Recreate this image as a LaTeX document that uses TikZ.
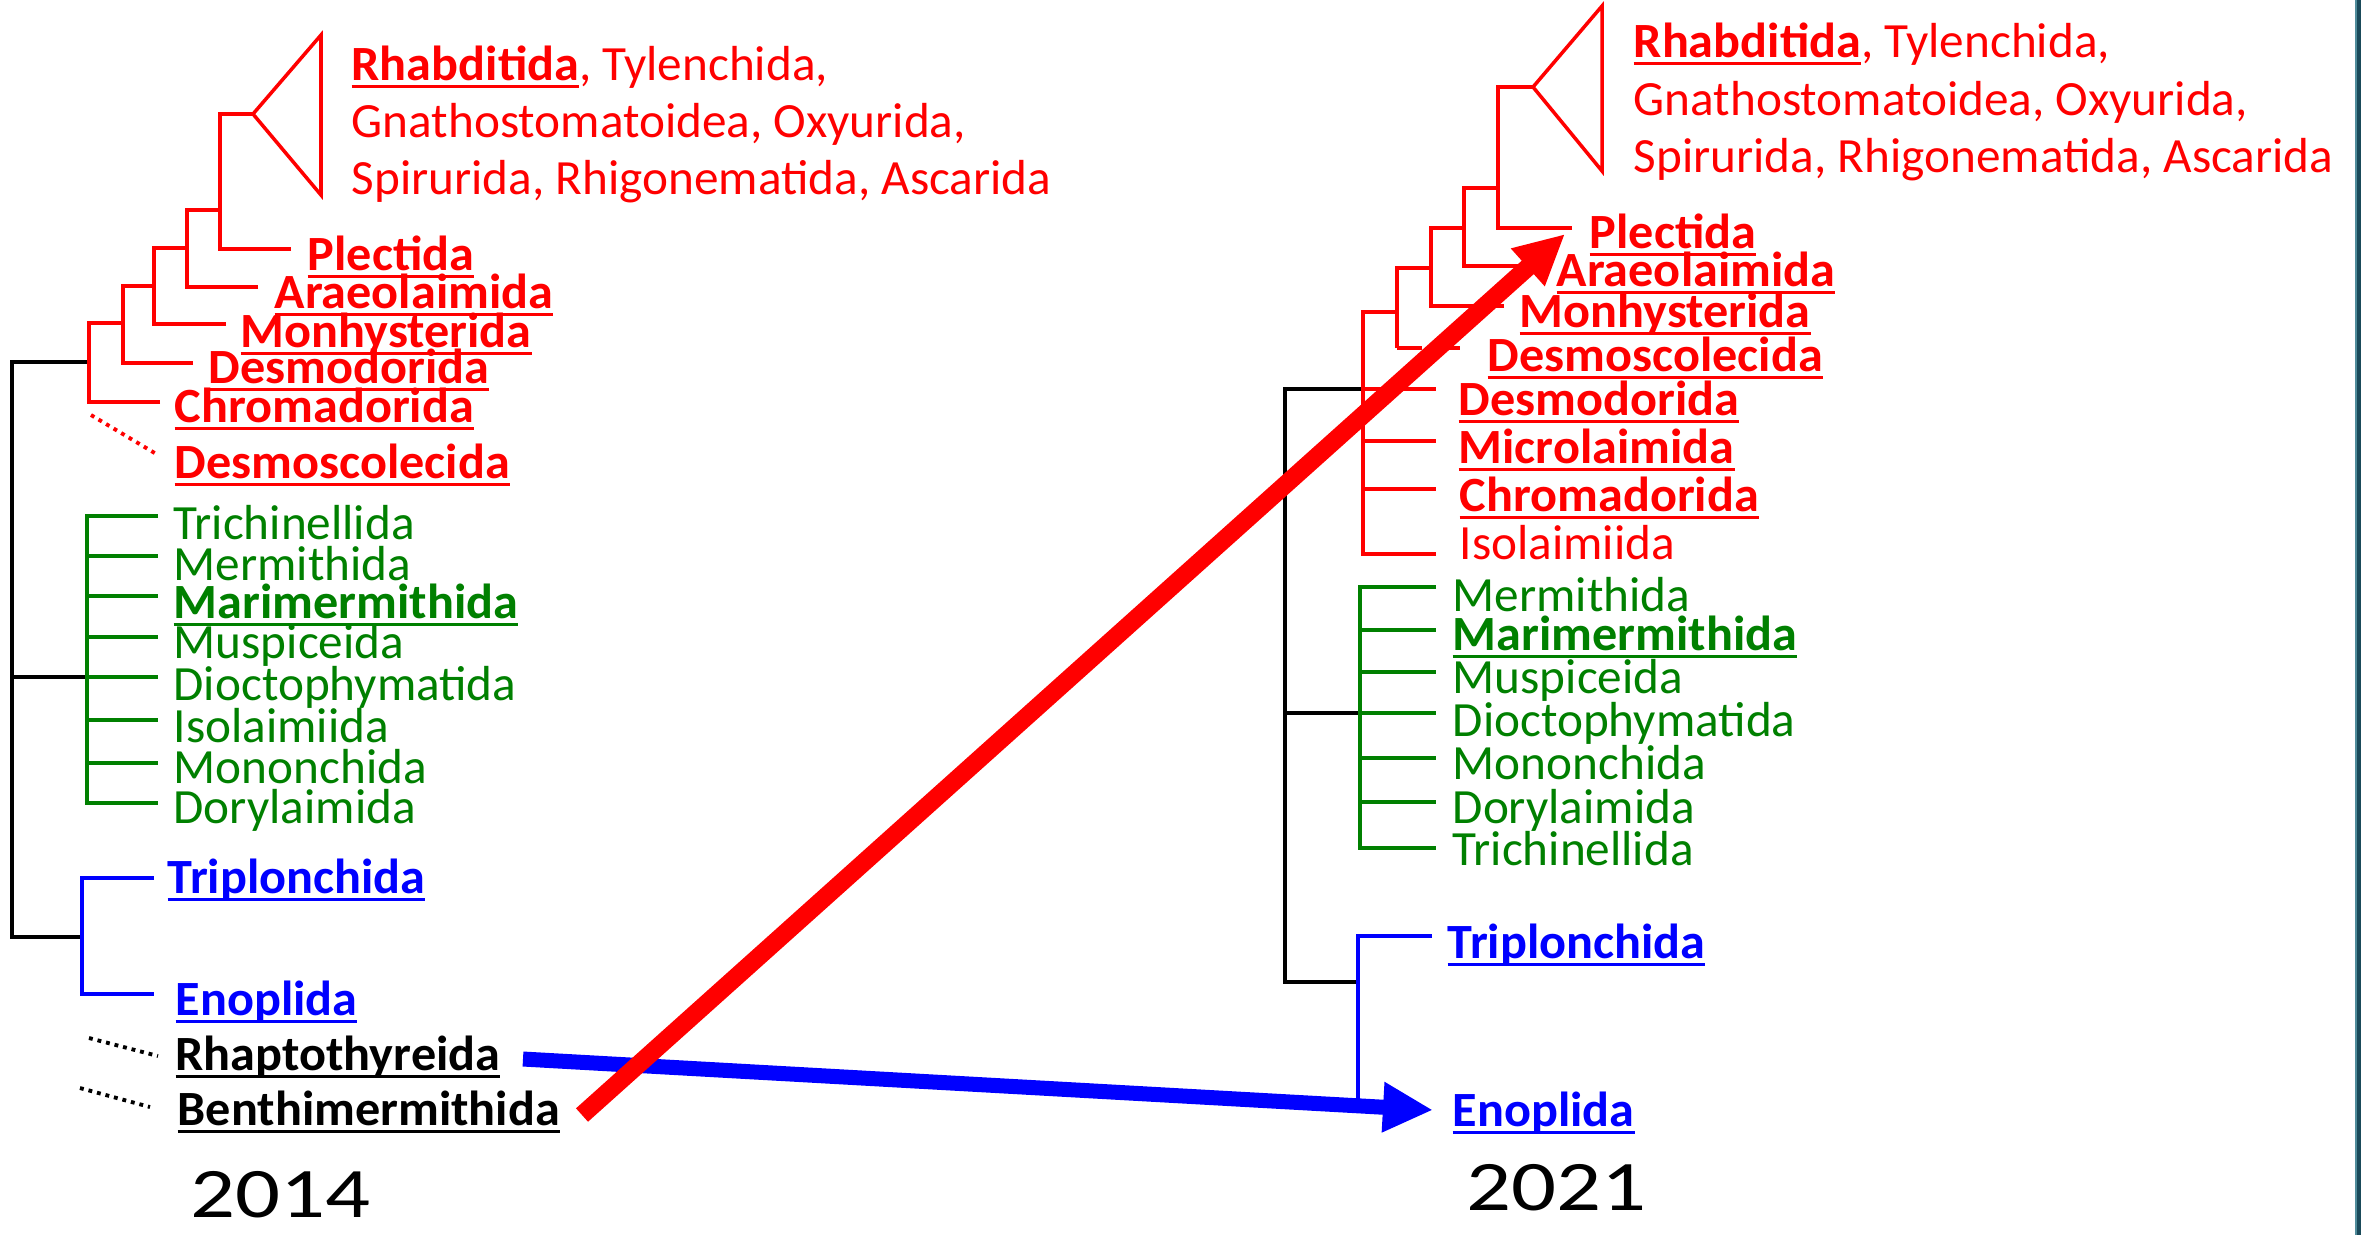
\documentclass[tikz,border=0pt]{standalone}
\usepackage{fontspec}
\usepackage{graphicx}
\setmainfont{Carlito}
\usetikzlibrary{arrows.meta}
\definecolor{tred}{RGB}{255,0,0}
\definecolor{tgreen}{RGB}{0,128,0}
\definecolor{tblue}{RGB}{0,0,255}
\definecolor{tealdark}{RGB}{26,74,90}
\definecolor{teallight}{RGB}{80,140,155}
\newcommand\myul[1]{\setbox0\hbox{#1}\rlap{\rule[-0.075cm]{\wd0}{0.03cm}}\box0}
\newcommand\bul[1]{\myul{\scalebox{1.02}[1]{\textbf{#1}}}}
\newcommand\labfont{\fontsize{14pt}{16pt}\selectfont}
\begin{document}
\begin{tikzpicture}[x=0.01cm,y=-0.01cm,
  br/.style={line width=1pt,line join=miter},
  rbr/.style={br,draw=tred},
  gbr/.style={br,draw=tgreen},
  bbr/.style={br,draw=tblue},
  kbr/.style={br,draw=black},
  lab/.style={anchor=base west,inner sep=0pt,font=\labfont},
  rlab/.style={lab,text=tred},
  glab/.style={lab,text=tgreen},
  blab/.style={lab,text=tblue},
  klab/.style={lab,text=black},
  yearlab/.style={anchor=base west,inner sep=0pt,font=\fontsize{20.2pt}{24pt}\selectfont},
  bigarrow/.style={-{Triangle[length=0.5cm,width=0.47cm]}},
  dots/.style={line width=1.1pt,dash pattern=on 1.1pt off 1.4pt}
]
\useasboundingbox (0,0) rectangle (2361,1235);
\fill[white] (0,0) rectangle (2361,1235);
\fill[teallight] (2355,0) rectangle (2358,1235);
\fill[tealdark] (2357,0) rectangle (2361,1235);

% ================= 2014 tree =================
% black backbone
\draw[kbr] (89,362) -- (12,362) -- (12,937) -- (82,937);
\draw[kbr] (12,677) -- (87,677);
% red clade
\draw[rbr] (160,402) -- (89,402) -- (89,323) -- (123,323);
\draw[rbr] (193,363) -- (123,363) -- (123,286) -- (154,286);
\draw[rbr] (226,324) -- (154,324) -- (154,248) -- (187,248);
\draw[rbr] (258,287) -- (187,287) -- (187,210) -- (220,210);
\draw[rbr] (291,249) -- (220,249) -- (220,114) -- (253,114);
\draw[rbr] (253,114) -- (321,35) -- (321,195) -- cycle;
\draw[tred,dots] (91,415) -- (158,455);
\node[rlab] (a-rh1) at (351,80) {\bul{Rhabditida}, Tylenchida,};
\node[rlab] (a-rh2) at (351,137) {Gnathostomatoidea, Oxyurida,};
\node[rlab] (a-rh3) at (351,194) {Spirurida, Rhigonematida, Ascarida};
\node[rlab] (a-ple) at (307,270) {\bul{Plectida}};
\node[rlab] (a-ara) at (274,308) {\bul{Araeolaimida}};
\node[rlab] (a-mon) at (240,347) {\bul{Monhysterida}};
\node[rlab] (a-des) at (208,383) {\bul{Desmodorida}};
\node[rlab] (a-chr) at (174,422) {\bul{Chromadorida}};
\node[rlab] (a-dsc) at (174,478) {\bul{Desmoscolecida}};
% green clade
\draw[gbr] (158,516) -- (87,516) -- (87,803) -- (158,803);
\foreach \yy in {556,596,637,677,720,763} \draw[gbr] (87,\yy) -- (158,\yy);
\node[glab] (a-tri) at (173,539) {Trichinellida};
\node[glab] (a-mer) at (173,580) {Mermithida};
\node[glab] (a-mar) at (173,618) {\bul{Marimermithida}};
\node[glab] (a-mus) at (173,658) {Muspiceida};
\node[glab] (a-dio) at (173,700) {Dioctophymatida};
\node[glab] (a-iso) at (173,742) {Isolaimiida};
\node[glab] (a-mnc) at (173,783) {Mononchida};
\node[glab] (a-dor) at (173,823) {Dorylaimida};
% blue clade
\draw[bbr] (154,878) -- (82,878) -- (82,994) -- (154,994);
\node[blab] (a-trp) at (167,893) {\bul{Triplonchida}};
\node[blab] (a-eno) at (175,1015) {\bul{Enoplida}};
\draw[black,dots] (89,1038) -- (158,1056);
\draw[black,dots] (80,1088) -- (150,1107);
\node[klab] (a-rha) at (175,1070) {\bul{Rhaptothyreida}};
\node[klab] (a-ben) at (177,1125) {\bul{Benthimermithida}};
\node[yearlab] (y14) at (190,1217) {\scalebox{1.25}[1]{2014}};

% ================= 2021 tree =================
\draw[kbr] (1363,389) -- (1285,389) -- (1285,982) -- (1358,982);
\draw[kbr] (1285,713) -- (1360,713);
% red clade
\draw[rbr] (1436,554) -- (1363,554) -- (1363,312) -- (1397,312);
\foreach \yy in {389,441,489} \draw[rbr] (1363,\yy) -- (1436,\yy);
\draw[rbr] (1397,348) -- (1397,268) -- (1431,268);
\draw[tred,line width=1pt,dash pattern=on 7pt off 4pt] (1397,348) -- (1470,348);
\draw[rbr] (1504,306) -- (1431,306) -- (1431,228) -- (1464,228);
\draw[rbr] (1544,266) -- (1464,266) -- (1464,188) -- (1498,188);
\draw[rbr] (1572,228) -- (1498,228) -- (1498,87) -- (1533,87);
\draw[rbr] (1533,87) -- (1602,6) -- (1602,171) -- cycle;
\node[rlab] (b-rh1) at (1633,57) {\bul{Rhabditida}, Tylenchida,};
\node[rlab] (b-rh2) at (1633,115) {Gnathostomatoidea, Oxyurida,};
\node[rlab] (b-rh3) at (1633,172) {Spirurida, Rhigonematida, Ascarida};
\node[rlab] (b-ple) at (1589,248) {\bul{Plectida}};
\node[rlab] (b-ara) at (1556,286) {\bul{Araeolaimida}};
\node[rlab] (b-mon) at (1519,327) {\bul{Monhysterida}};
\node[rlab] (b-dsc) at (1487,371) {\bul{Desmoscolecida}};
\node[rlab] (b-des) at (1458,415) {\bul{Desmodorida}};
\node[rlab] (b-mic) at (1458,463) {\bul{Microlaimida}};
\node[rlab] (b-chr) at (1459,511) {\bul{Chromadorida}};
\node[rlab] (b-iso) at (1459,559) {Isolaimiida};
% green clade
\draw[gbr] (1436,587) -- (1360,587) -- (1360,848) -- (1436,848);
\foreach \yy in {630,672,713,758,802} \draw[gbr] (1360,\yy) -- (1436,\yy);
\node[glab] (b-mer) at (1452,611) {Mermithida};
\node[glab] (b-mar) at (1452,650) {\bul{Marimermithida}};
\node[glab] (b-mus) at (1452,693) {Muspiceida};
\node[glab] (b-dio) at (1452,736) {Dioctophymatida};
\node[glab] (b-mnc) at (1452,779) {Mononchida};
\node[glab] (b-dor) at (1452,823) {Dorylaimida};
\node[glab] (b-tri) at (1452,865) {Trichinellida};
% blue clade
\draw[bbr] (1432,936) -- (1358,936) -- (1358,1105);
\node[blab] (b-trp) at (1447,958) {\bul{Triplonchida}};
\node[blab] (b-eno) at (1452,1126) {\bul{Enoplida}};
\node[yearlab] (y21) at (1466,1210) {\scalebox{1.25}[1]{2021}};

% ================= arrows =================
\coordinate (bstart) at (523,1059);
\coordinate (bend) at (1433,1110);
\coordinate (rstart) at (582,1115);
\coordinate (rend) at (1565,234);
\draw[bigarrow,draw=tblue,fill=tblue,line width=0.15cm] (bstart) -- (bend);
\draw[bigarrow,draw=tred,fill=tred,line width=0.18cm] (rstart) -- (rend);
\end{tikzpicture}
\end{document}
